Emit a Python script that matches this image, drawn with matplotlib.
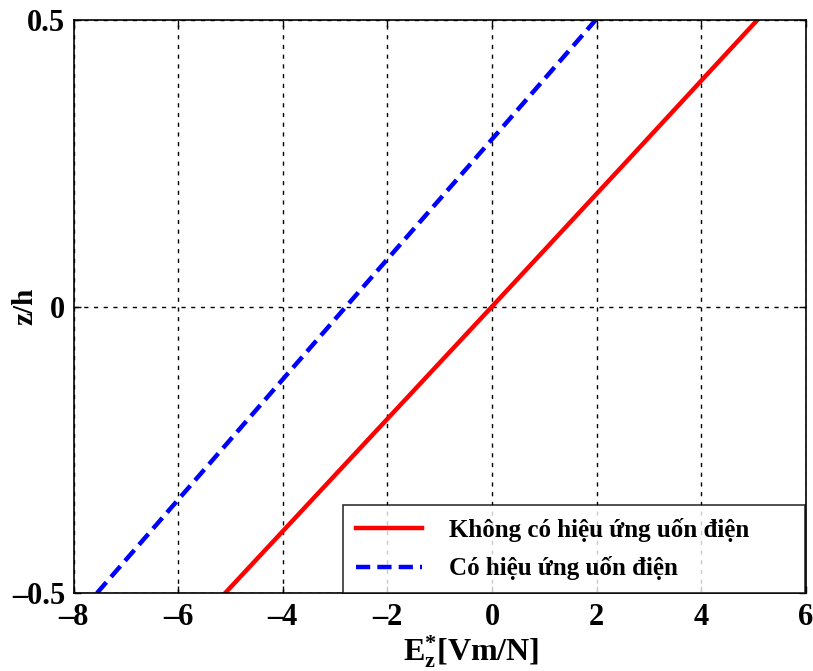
import matplotlib
matplotlib.use("Agg")
import matplotlib.pyplot as plt

# data
z = [-0.5, -0.25, 0.0, 0.25, 0.5]
E_no_flexo = [-5.10, -2.55, 0.0, 2.54, 5.07]
E_flexo = [-7.55, -5.17, -2.79, -0.40, 1.98]
xticks = [-8, -6, -4, -2, 0, 2, 4, 6]
yticks = [-0.5, 0, 0.5]
ytick_labels = ["-0.5", "0", "0.5"]
labels = ["Không có hiệu ứng uốn điện", "Có hiệu ứng uốn điện"]

plt.rcParams['font.family'] = ['Liberation Serif', 'DejaVu Serif']
plt.rcParams['font.weight'] = 'bold'
plt.rcParams['mathtext.fontset'] = 'custom'
plt.rcParams['mathtext.rm'] = 'Liberation Serif:bold'
plt.rcParams['mathtext.bf'] = 'Liberation Serif:bold'
plt.rcParams['mathtext.it'] = 'Liberation Serif:bold'

fig = plt.figure(figsize=(8.13, 6.71), dpi=100)
x0, x1, y0, y1 = 73.5, 806, 20, 593
ax = fig.add_axes([x0/813, 1 - y1/671, (x1-x0)/813, (y1-y0)/671])

ax.plot(E_no_flexo, z, color='red', lw=3.2, label=labels[0])
ax.plot(E_flexo, z, color='blue', lw=3.2, ls=(0, (3.2, 1.6)), label=labels[1])

ax.set_xlim(-8, 6)
ax.set_ylim(-0.5, 0.5)
ax.set_xticks(xticks)
ax.set_xticklabels([str(t).replace('-', '\u2013') for t in xticks])
ax.set_yticks(yticks)
ax.set_yticklabels([t.replace('-', '\u2013') for t in ytick_labels])
ax.grid(True, color='black', ls=(0, (3, 4)), lw=1)
ax.tick_params(direction='in', length=5, labelsize=22, width=1, top=True, right=True)
ax.tick_params(axis='x', pad=7)
ax.tick_params(axis='y', pad=6)
for lab in ax.get_xticklabels() + ax.get_yticklabels():
    lab.set_fontweight('bold')
for s in ax.spines.values():
    s.set_linewidth(1.2)

ax.set_xlabel(r'E$_{\mathbf{z}}^{\mathbf{*}}$[Vm/N]', fontsize=23, fontweight='bold')
ax.xaxis.set_label_coords((471 - x0)/(x1 - x0), (y1 - 633)/(y1 - y0))
ax.set_ylabel('z/h', fontsize=21, fontweight='bold')
ax.yaxis.set_label_coords((25 - x0)/(x1 - x0), 0.5)
ax.yaxis.label.set_va('center')

lx = (343 - x0)/(x1 - x0)
lw_ = (805 - 343)/(x1 - x0)
lh = (593 - 504)/(y1 - y0)
leg = ax.legend(loc='lower left', bbox_to_anchor=(lx, 0.0, lw_, lh), mode='expand',
                fontsize=18, frameon=True, fancybox=False,
                edgecolor='black', borderaxespad=0.0, handlelength=2.65,
                handletextpad=1.1, borderpad=0.5, labelspacing=0.6)
leg.get_frame().set_linewidth(1.2)
for t in leg.get_texts():
    t.set_fontweight('bold')

fig.savefig('out.png', dpi=100)
